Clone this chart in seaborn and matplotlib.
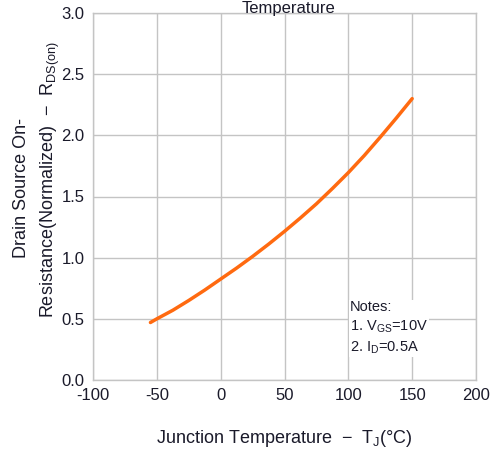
import matplotlib
matplotlib.use("Agg")
import matplotlib.pyplot as plt
import seaborn as sns
import pandas as pd

temp_c = [-55, -50, -37.5, -25, -12.5, 0, 12.5, 25, 37.5, 50, 62.5, 75, 87.5, 100, 112.5, 125, 137.5, 150]
rds_norm = [0.47, 0.50, 0.57, 0.65, 0.735, 0.825, 0.915, 1.01, 1.11, 1.215, 1.325, 1.44, 1.565, 1.695, 1.835, 1.985, 2.14, 2.30]
x_ticks = [-100, -50, 0, 50, 100, 150, 200]
y_ticks = [0.0, 0.5, 1.0, 1.5, 2.0, 2.5, 3.0]

sns.set_theme(style="whitegrid")
plt.rcParams['font.family'] = ['Liberation Sans', 'DejaVu Sans']

df = pd.DataFrame({"T": temp_c, "R": rds_norm})

fig = plt.figure(figsize=(4.94, 4.55), dpi=100)
ax = fig.add_axes([93/494, 1-380/455, (476-93)/494, (380-13)/455])
sns.lineplot(data=df, x="T", y="R", ax=ax, color="#FF6A10", linewidth=2.5)

ax.set_xlim(-100, 200)
ax.set_ylim(0, 3.0)
ax.set_xticks(x_ticks)
ax.set_yticks(y_ticks)
ax.set_xticklabels([str(t) for t in x_ticks])
ax.set_yticklabels([f"{t:.1f}" for t in y_ticks])
ax.tick_params(axis='both', length=0, labelsize=12, colors="#1a1a2a", pad=6)
ax.grid(True, color="#c4c4c4", linewidth=1.0)
for s in ax.spines.values():
    s.set_color("#c4c4c4")
    s.set_linewidth(1.0)

ax.set_xlabel(r"Junction Temperature  −  T$_\mathregular{J}$(°C)", fontsize=13,
              color="#1a1a2a", labelpad=18)
ax.set_ylabel("")
fig.text(22/494, 1-188/455, "Drain Source On-", rotation=90, ha="center", va="center",
         fontsize=13, color="#1a1a2a")
fig.text(50/494, 1-180/455, r"Resistance(Normalized)  −  R$_\mathregular{DS(on)}$", rotation=90,
         ha="center", va="center", fontsize=13, color="#1a1a2a")

fig.text(288/494, 1-0.5/455, "Temperature", ha="center", va="top", fontsize=12,
         color="#1a1a2a")

fig.text(350/494, 1-300/455, "Notes:\n1. V$_\\mathregular{GS}$=10V\n2. I$_\\mathregular{D}$=0.5A",
         fontsize=10.5, color="#1a1a2a", va="top", ha="left", linespacing=1.35,
         bbox=dict(facecolor="white", edgecolor="none", pad=1))

fig.savefig("out.png", dpi=100)
